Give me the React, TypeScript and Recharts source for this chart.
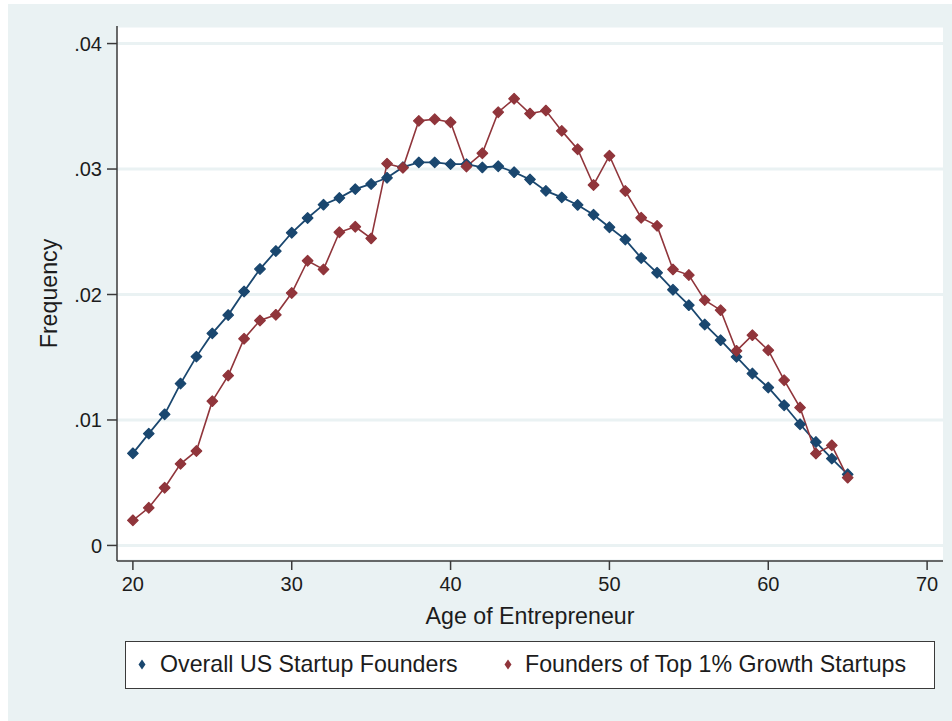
import React from 'react';
import { LineChart, Line, XAxis, YAxis, CartesianGrid, Legend, Label } from 'recharts';

const ages = [20, 21, 22, 23, 24, 25, 26, 27, 28, 29, 30, 31, 32, 33, 34, 35, 36, 37, 38, 39, 40, 41, 42, 43, 44, 45, 46, 47, 48, 49, 50, 51, 52, 53, 54, 55, 56, 57, 58, 59, 60, 61, 62, 63, 64, 65];

const overallUS = [0.00734, 0.00891, 0.01045, 0.0129, 0.01505, 0.0169, 0.01836, 0.02024, 0.02203, 0.02346, 0.02492, 0.0261, 0.02716, 0.0277, 0.0284, 0.02881, 0.0293, 0.03015, 0.03053, 0.03053, 0.03039, 0.03039, 0.03013, 0.03022, 0.02975, 0.02917, 0.02826, 0.02774, 0.02714, 0.02636, 0.02536, 0.02438, 0.02291, 0.02173, 0.02038, 0.01915, 0.01761, 0.01636, 0.01503, 0.0137, 0.01259, 0.01117, 0.00966, 0.00824, 0.00692, 0.00567];

const top1Growth = [0.002, 0.003, 0.0046, 0.0065, 0.00753, 0.0115, 0.01354, 0.01647, 0.01793, 0.01838, 0.02012, 0.02269, 0.022, 0.02496, 0.0254, 0.02447, 0.03043, 0.0301, 0.03384, 0.03397, 0.03373, 0.0302, 0.03126, 0.03453, 0.0356, 0.03442, 0.03466, 0.03304, 0.03158, 0.02873, 0.03106, 0.02825, 0.02612, 0.02547, 0.022, 0.02155, 0.01955, 0.01875, 0.01551, 0.01676, 0.01556, 0.01317, 0.01099, 0.00732, 0.00798, 0.0054];

const xTicks = [20, 30, 40, 50, 60, 70];
const yTicks = [0, 0.01, 0.02, 0.03, 0.04];
const yTickLabels = ['0', '.01', '.02', '.03', '.04'];

const seriesNames = ['Overall US Startup Founders', 'Founders of Top 1% Growth Startups'];

const data = ages.map((age, i) => ({ age, overall: overallUS[i], top1: top1Growth[i] }));

const BG = '#EAF2F3';
const NAVY = '#1A476F';
const MAROON = '#90353B';
const AX = '#3a3a3a';
const TXT = '#1c1c1c';
const FONT = '"Liberation Sans", Arial, Helvetica, sans-serif';
const TITLE_SIZE = 23.2;

const diamondDot = (color: string) => (props: any) => {
  const { cx, cy, index } = props;
  if (cx == null || cy == null) return <g key={index} />;
  const r = 5.3;
  return (
    <polygon
      key={index}
      points={`${cx},${cy - r} ${cx + r},${cy} ${cx},${cy + r} ${cx - r},${cy}`}
      fill={color}
      stroke={color}
      strokeWidth={1.2}
      strokeLinejoin="round"
    />
  );
};

const LegendDiamond = ({ color }: { color: string }) => (
  <svg width={8} height={11} style={{ display: 'block' }}>
    <polygon points="4,0.5 7.5,5.5 4,10.5 0.5,5.5" fill={color} />
  </svg>
);

const renderLegend = () => (
  <div
    style={{
      position: 'relative',
      boxSizing: 'border-box',
      width: 810,
      height: 48,
      background: '#fff',
      border: `1.5px solid ${AX}`,
      fontFamily: FONT,
      fontSize: TITLE_SIZE,
      color: TXT,
    }}
  >
    <div style={{ position: 'absolute', left: 12, top: 0, height: 45, display: 'flex', alignItems: 'center' }}>
      <LegendDiamond color={NAVY} />
    </div>
    <div style={{ position: 'absolute', left: 34, top: 0, height: 45, display: 'flex', alignItems: 'center', whiteSpace: 'nowrap' }}>
      {seriesNames[0]}
    </div>
    <div style={{ position: 'absolute', left: 378, top: 0, height: 45, display: 'flex', alignItems: 'center' }}>
      <LegendDiamond color={MAROON} />
    </div>
    <div style={{ position: 'absolute', left: 399, top: 0, height: 45, display: 'flex', alignItems: 'center', whiteSpace: 'nowrap' }}>
      {seriesNames[1]}
    </div>
  </div>
);

export default function App() {
  return (
    <div style={{ position: 'absolute', left: 0, top: 0, width: 952, height: 721, background: '#fff', overflow: 'hidden' }}>
      <div style={{ position: 'absolute', left: 8, top: 4, width: 944, height: 717, background: BG }} />
      <div style={{ position: 'absolute', left: 0, top: 0 }}>
        <LineChart width={952} height={721} data={data} margin={{ top: 26, right: 9, bottom: 32, left: 0 }}>
          <CartesianGrid vertical={false} fill="#fff" stroke={BG} strokeWidth={3} />
          <XAxis
            dataKey="age"
            type="number"
            domain={[19, 71]}
            ticks={xTicks}
            allowDataOverflow
            height={80}
            tickSize={9}
            tickMargin={7}
            axisLine={{ stroke: AX, strokeWidth: 1.5 }}
            tickLine={{ stroke: AX, strokeWidth: 1.5 }}
            tick={{ fill: TXT, fontSize: 20, fontFamily: FONT }}
          >
            <Label
              content={(p: any) => {
                const vb = p.viewBox || {};
                return (
                  <text
                    x={vb.x + vb.width / 2}
                    y={vb.y + 63}
                    textAnchor="middle"
                    fill={TXT}
                    fontSize={TITLE_SIZE}
                    fontFamily={FONT}
                  >
                    Age of Entrepreneur
                  </text>
                );
              }}
            />
          </XAxis>
          <YAxis
            type="number"
            domain={[-0.00124, 0.0414]}
            ticks={yTicks}
            allowDataOverflow
            width={117}
            tickSize={10}
            tickMargin={5}
            tickFormatter={(v: number) => yTickLabels[yTicks.indexOf(v)] ?? String(v)}
            axisLine={{ stroke: AX, strokeWidth: 1.5 }}
            tickLine={{ stroke: AX, strokeWidth: 1.5 }}
            tick={{ fill: TXT, fontSize: 20, fontFamily: FONT }}
          >
            <Label
              content={(p: any) => {
                const vb = p.viewBox || {};
                const cx = vb.x + 57;
                const cy = vb.y + vb.height / 2;
                return (
                  <text
                    x={cx}
                    y={cy}
                    transform={`rotate(-90 ${cx} ${cy})`}
                    textAnchor="middle"
                    fill={TXT}
                    fontSize={TITLE_SIZE}
                    fontFamily={FONT}
                  >
                    Frequency
                  </text>
                );
              }}
            />
          </YAxis>
          <Legend
            verticalAlign="bottom"
            align="left"
            content={renderLegend}
            wrapperStyle={{ left: 125, bottom: 32, width: 810, height: 48 }}
          />
          <Line
            type="linear"
            dataKey="overall"
            name={seriesNames[0]}
            stroke={NAVY}
            strokeWidth={1.8}
            dot={diamondDot(NAVY)}
            activeDot={false}
            isAnimationActive={false}
          />
          <Line
            type="linear"
            dataKey="top1"
            name={seriesNames[1]}
            stroke={MAROON}
            strokeWidth={1.6}
            dot={diamondDot(MAROON)}
            activeDot={false}
            isAnimationActive={false}
          />
        </LineChart>
      </div>
    </div>
  );
}
